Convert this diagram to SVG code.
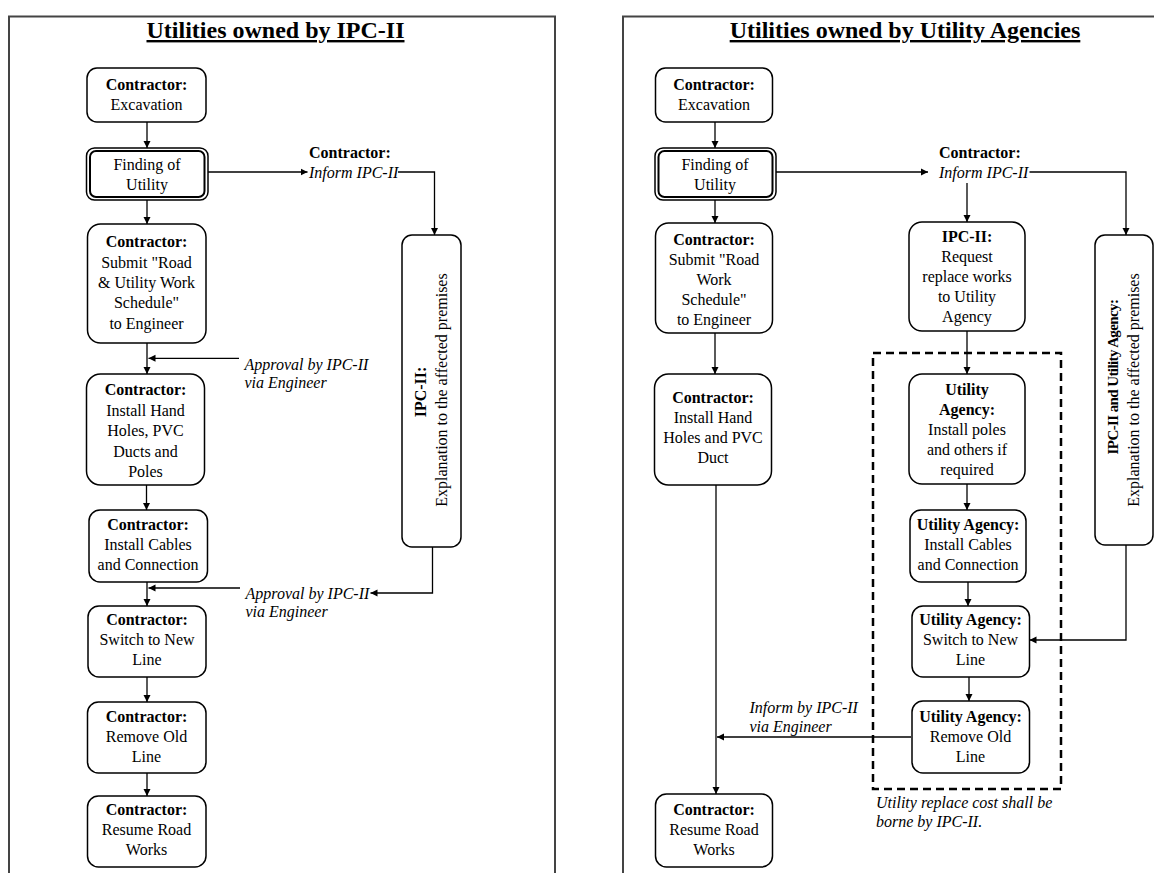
<svg xmlns="http://www.w3.org/2000/svg" width="1154" height="873" viewBox="0 0 1154 873">
<defs>
<marker id="ah" markerWidth="8" markerHeight="8" refX="7" refY="4" orient="auto" markerUnits="userSpaceOnUse"><path d="M0,0.5 L7,4 L0,7.5 z" fill="#000"/></marker>
<style>
text{font-family:"Liberation Serif","Times New Roman",serif;font-size:16px;fill:#000;text-anchor:middle}
.b{font-weight:bold}
.i{font-style:italic}
.l{text-anchor:start}
.title{font-size:24px;font-weight:bold;text-decoration:underline}
.box{fill:#fff;stroke:#000;stroke-width:1.5}
.frame{fill:none;stroke:#444;stroke-width:2}
.dash{fill:none;stroke:#000;stroke-width:2.5;stroke-dasharray:8 5}
.c path{fill:none;stroke:#000;stroke-width:1.3}
.a{marker-end:url(#ah)}
</style>
</defs>
<rect width="1154" height="873" fill="#fff"/>
<g id="frames">
<path class="frame" d="M9,873 V16.5 H555 V873"/>
<path class="frame" d="M623,873 V16.5 H1154"/>
<text class="title" x="275.5" y="38">Utilities owned by IPC-II</text>
<text class="title" x="905" y="38">Utilities owned by Utility Agencies</text>
</g>
<g id="dashed-group"><rect class="dash" x="873" y="353" width="188" height="436"/></g>
<g class="c" id="connectors">
<path class="a" d="M147,122 V148"/>
<path class="a" d="M147,200 V224"/>
<path class="a" d="M147,343 V374"/>
<path class="a" d="M239,358.3 H148.5"/>
<path class="a" d="M146.5,485 V510"/>
<path class="a" d="M147,582 V606"/>
<path class="a" d="M240,588 H148.5"/>
<path class="a" d="M432.5,547 V593 H370.5"/>
<path class="a" d="M147,677 V702"/>
<path class="a" d="M147,773 V796"/>
<path class="a" d="M208,172 H307.5"/>
<path class="a" d="M398,172 H434.5 V235"/>
<path class="a" d="M715,122 V148"/>
<path class="a" d="M715,200 V223"/>
<path class="a" d="M776,172 H928"/>
<path class="a" d="M1029.5,172 H1126 V235"/>
<path class="a" d="M967,183 V222"/>
<path class="a" d="M715,333 V374"/>
<path class="a" d="M716,485 V794"/>
<path class="a" d="M911,737 H717"/>
<path class="a" d="M967,331 V374"/>
<path class="a" d="M967,484 V510"/>
<path class="a" d="M968,582 V606"/>
<path class="a" d="M1126,545 V640 H1029.5"/>
<path class="a" d="M969,677 V701"/>
</g>
<g id="labels">
<text class="b l" x="309" y="158">Contractor:</text>
<text class="i l" x="309" y="178">Inform IPC-II</text>
<text class="i l" x="244.5" y="370">Approval by IPC-II</text>
<text class="i l" x="244.5" y="388">via Engineer</text>
<text class="i l" x="245.5" y="598.5">Approval by IPC-II</text>
<text class="i l" x="245.5" y="617">via Engineer</text>
<text class="b l" x="939" y="158">Contractor:</text>
<text class="i l" x="939" y="178">Inform IPC-II</text>
<text class="i l" x="749.5" y="713">Inform by IPC-II</text>
<text class="i l" x="749.5" y="732">via Engineer</text>
<text class="i l" x="876" y="808">Utility replace cost shall be</text>
<text class="i l" x="876" y="827">borne by IPC-II.</text>
</g>
<g id="L1"><rect class="box" x="87" y="68" width="119" height="54" rx="10"/><text class="b" x="146.5" y="90">Contractor:</text><text x="146.5" y="110">Excavation</text></g>
<g id="L2"><rect class="box" x="86.5" y="148" width="121.5" height="52" rx="8"/><rect class="box" x="90" y="151" width="114.5" height="46" rx="6" style="stroke-width:2"/><text x="147" y="170">Finding of</text><text x="147" y="190">Utility</text></g>
<g id="L3"><rect class="box" x="87.5" y="224" width="118.5" height="119" rx="13"/><text class="b" x="146.5" y="247">Contractor:</text><text x="146.5" y="268">Submit "Road</text><text x="146.5" y="288">&amp; Utility Work</text><text x="146.5" y="308">Schedule"</text><text x="146.5" y="329">to Engineer</text></g>
<g id="L4"><rect class="box" x="86.5" y="374" width="118" height="111" rx="14"/><text class="b" x="145.5" y="395">Contractor:</text><text x="145.5" y="416">Install Hand</text><text x="145.5" y="436">Holes, PVC</text><text x="145.5" y="457">Ducts and</text><text x="145.5" y="477">Poles</text></g>
<g id="L5"><rect class="box" x="89" y="510" width="118.5" height="72" rx="11"/><text class="b" x="148" y="530">Contractor:</text><text x="148" y="550">Install Cables</text><text x="148" y="570">and Connection</text></g>
<g id="L6"><rect class="box" x="88" y="606" width="118" height="71" rx="11"/><text class="b" x="147" y="625">Contractor:</text><text x="147" y="645">Switch to New</text><text x="147" y="665">Line</text></g>
<g id="L7"><rect class="box" x="87.5" y="702" width="118.5" height="71" rx="11"/><text class="b" x="146.5" y="722">Contractor:</text><text x="146.5" y="742">Remove Old</text><text x="146.5" y="762">Line</text></g>
<g id="L8"><rect class="box" x="87.5" y="796" width="118.5" height="71" rx="11"/><text class="b" x="146.5" y="815">Contractor:</text><text x="146.5" y="835">Resume Road</text><text x="146.5" y="855">Works</text></g>
<g id="LV"><rect class="box" x="402" y="235" width="59" height="312" rx="10"/><text class="b" transform="translate(425.5,392) rotate(-90)">IPC-II:</text><text transform="translate(446.5,390) rotate(-90)">Explanation to the affected premises</text></g>
<g id="R1"><rect class="box" x="655.5" y="68" width="117" height="54" rx="10"/><text class="b" x="714" y="90">Contractor:</text><text x="714" y="110">Excavation</text></g>
<g id="R2"><rect class="box" x="655" y="148" width="121" height="52" rx="8"/><rect class="box" x="658.5" y="151" width="114" height="46" rx="6" style="stroke-width:2"/><text x="715" y="170">Finding of</text><text x="715" y="190">Utility</text></g>
<g id="R3"><rect class="box" x="655.5" y="223" width="117" height="110" rx="13"/><text class="b" x="714" y="245">Contractor:</text><text x="714" y="265">Submit "Road</text><text x="714" y="285">Work</text><text x="714" y="305">Schedule"</text><text x="714" y="325">to Engineer</text></g>
<g id="R4"><rect class="box" x="654.5" y="374" width="117" height="111" rx="14"/><text class="b" x="713" y="403">Contractor:</text><text x="713" y="423">Install Hand</text><text x="713" y="443">Holes and PVC</text><text x="713" y="463">Duct</text></g>
<g id="R5"><rect class="box" x="655.5" y="794" width="117" height="73" rx="11"/><text class="b" x="714" y="815">Contractor:</text><text x="714" y="835">Resume Road</text><text x="714" y="855">Works</text></g>
<g id="RI"><rect class="box" x="909" y="222" width="116" height="109" rx="13"/><text class="b" x="967" y="242">IPC-II:</text><text x="967" y="262">Request</text><text x="967" y="282">replace works</text><text x="967" y="302">to Utility</text><text x="967" y="322">Agency</text></g>
<g id="U1"><rect class="box" x="909" y="374" width="116" height="110" rx="13"/><text class="b" x="967" y="395">Utility</text><text class="b" x="967" y="415">Agency:</text><text x="967" y="435">Install poles</text><text x="967" y="455">and others if</text><text x="967" y="475">required</text></g>
<g id="U2"><rect class="box" x="910" y="510" width="116" height="72" rx="11"/><text class="b" x="968" y="530">Utility Agency:</text><text x="968" y="550">Install Cables</text><text x="968" y="570">and Connection</text></g>
<g id="U3"><rect class="box" x="912" y="606" width="117.5" height="71" rx="11"/><text class="b" x="970.5" y="625">Utility Agency:</text><text x="970.5" y="645">Switch to New</text><text x="970.5" y="665">Line</text></g>
<g id="U4"><rect class="box" x="912" y="701" width="117.5" height="72" rx="11"/><text class="b" x="970.5" y="722">Utility Agency:</text><text x="970.5" y="742">Remove Old</text><text x="970.5" y="762">Line</text></g>
<g id="RV"><rect class="box" x="1095" y="235" width="58" height="310" rx="10"/><text class="b" style="font-size:15px;letter-spacing:-0.6px" transform="translate(1118,377) rotate(-90)">IPC-II and Utility Agency:</text><text transform="translate(1139,390) rotate(-90)">Explanation to the affected premises</text></g>
</svg>
